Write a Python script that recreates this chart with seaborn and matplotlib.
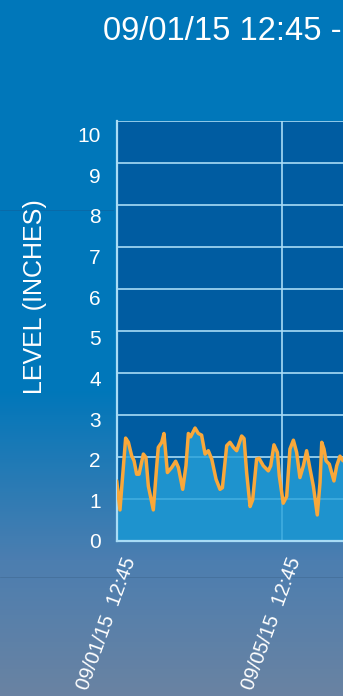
import numpy as np
import pandas as pd
import seaborn as sns
import matplotlib.pyplot as plt
import matplotlib.dates as mdates
from matplotlib.transforms import ScaledTranslation

sns.set_theme(style="white")
plt.rcParams["font.family"] = ["Liberation Sans", "DejaVu Sans"]

# readings, hours after 09/01/15 12:45
start = pd.Timestamp("2015-09-01 12:45")
hours = [0, 1.9, 5.2, 6.8, 8.7, 10.1, 11.6, 13.0, 15.5, 17.0,
         18.4, 21.3, 23.3, 24.2, 26.2, 27.5, 29.5, 32.0, 34.3, 35.9,
         38.4, 40.3, 41.7, 43.0, 45.6, 47.5, 49.4, 51.4, 53.3, 55.3,
         57.8, 60.1, 61.5, 64.0, 65.9, 67.9, 69.8, 72.7, 74.1, 75.6,
         77.6, 79.1, 81.4, 82.8, 85.3, 88.2, 89.6, 91.5, 93.5, 94.6,
         96.9, 98.9, 100.8, 102.8, 104.7, 106.6, 108.6, 110.5, 112.5, 114.4,
         116.7, 118.3, 119.3, 120.6, 121.8, 123.7, 126.4, 128.0, 129.9, 131.7]
levels = [1.43, 0.74, 2.45, 2.35, 2.03, 1.91, 1.59, 1.59, 2.07, 1.99,
          1.31, 0.74, 1.79, 2.23, 2.35, 2.56, 1.63, 1.75, 1.90, 1.75,
          1.23, 1.79, 2.56, 2.48, 2.69, 2.56, 2.52, 2.07, 2.15, 1.95,
          1.47, 1.23, 1.27, 2.27, 2.35, 2.23, 2.15, 2.50, 2.44, 1.63,
          0.82, 0.98, 1.95, 1.97, 1.79, 1.67, 1.79, 2.29, 2.11, 1.55,
          0.90, 1.06, 2.19, 2.40, 2.11, 1.51, 1.79, 2.15, 1.71, 1.31,
          0.62, 1.39, 2.35, 2.19, 1.91, 1.83, 1.43, 1.79, 2.02, 1.91]
y_ticks = list(range(0, 11))
title_text = "09/01/15 12:45 -"
y_label = "LEVEL (INCHES)"

df = pd.DataFrame({"time": start + pd.to_timedelta(hours, unit="h"), "level": levels})
x_ticks = pd.date_range(start, periods=2, freq="4D")

W, H = 343, 696
fig = plt.figure(figsize=(W / 100, H / 100), dpi=100)

# page background gradient
bg = fig.add_axes([0, 0, 1, 1], zorder=-10)
rows = np.arange(H)
stops_y = [0, 390, 560, H]
stops_c = np.array([[0, 119, 186], [0, 119, 186], [76, 126, 176], [106, 131, 162]]) / 255
grad = np.stack([np.interp(rows, stops_y, stops_c[:, i]) for i in range(3)], axis=1)
bg.imshow(grad[:, None, :], aspect="auto", extent=[0, W, H, 0])
bg.plot([0, W], [577, 577], color="#46729e", lw=0.7)
bg.plot([0, 113], [210, 210], color="#0a6aa8", lw=0.7)
bg.set_xlim(0, W)
bg.set_ylim(H, 0)
bg.axis("off")

left_px, right_px = 116.7, 350
rect = [left_px / W, 155 / H, (right_px - left_px) / W, 420 / H]
ax = fig.add_axes(rect)
ax.set_facecolor("#005ca1")
ax.set_axisbelow(True)
ax.grid(True, color="#a8dcf6", lw=1.2)

ax.fill_between(df["time"], df["level"], 0, color="#26a1da", alpha=0.8, lw=0, zorder=1)
sns.lineplot(data=df, x="time", y="level", color="#f9a83a", linewidth=2.5, ax=ax, zorder=3)

px_per_day = 41.25
ax.set_xlim(start, start + pd.Timedelta(days=(right_px - left_px) / px_per_day))
ax.set_ylim(0, 10)
ax.set_yticks(y_ticks)
ax.set_xticks(x_ticks)
ax.xaxis.set_major_formatter(mdates.DateFormatter("%m/%d/%y  %H:%M"))
ax.set_xlabel("")
ax.set_ylabel("")
ax.tick_params(axis="y", length=0, labelleft=False)

for side in ["top", "right"]:
    ax.spines[side].set_visible(False)
for side in ["left", "bottom"]:
    ax.spines[side].set_color("#a8dcf6")
    ax.spines[side].set_linewidth(1.6)

# the value labels sit on a slightly tighter scale than the grid
lab_ax = fig.add_axes(rect, zorder=-5)
lab_ax.patch.set_visible(False)
for s in lab_ax.spines.values():
    s.set_visible(False)
lab_ax.set_ylim(0, 10.33)
lab_ax.set_yticks(y_ticks)
lab_ax.set_xticks([])
lab_ax.tick_params(axis="y", length=0, pad=11.5, labelsize=15, labelcolor="white")

ax.tick_params(axis="x", length=0, pad=12, labelsize=14.5, labelcolor="white")
shift = ScaledTranslation(0.14, 0, fig.dpi_scale_trans)
for lab in ax.get_xticklabels():
    lab.set_rotation(70)
    lab.set_ha("right")
    lab.set_va("center")
    lab.set_rotation_mode("anchor")
    lab.set_transform(lab.get_transform() + shift)

fig.text(103 / W, 1 - 31 / H, title_text, color="white", fontsize=23.5, ha="left", va="center")
fig.text(35 / W, 1 - 297 / H, y_label, color="white", fontsize=18, rotation=90, ha="center", va="center")

fig.savefig("out.png", dpi=100)
